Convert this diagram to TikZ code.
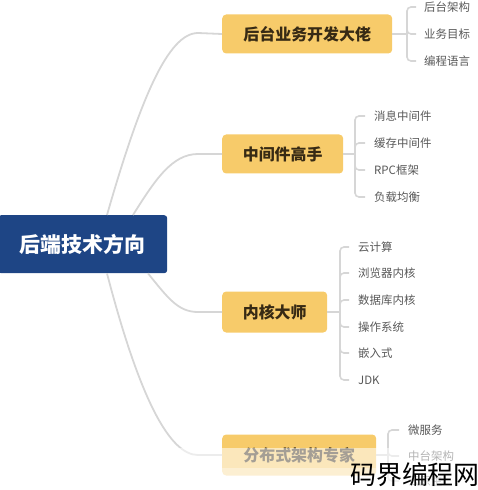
\documentclass[tikz,border=0pt]{standalone}
\usepackage{fontspec}
\setmainfont{Noto Sans CJK SC}
\usetikzlibrary{calc}
\definecolor{rootblue}{RGB}{30,69,133}
\definecolor{branchfill}{RGB}{247,203,106}
\definecolor{branchtext}{RGB}{55,42,20}
\definecolor{linegray}{RGB}{214,214,214}
\definecolor{leafgray}{RGB}{88,88,88}
\tikzset{
  rootbox/.style={fill=rootblue, rounded corners=3bp, text=white, font=\fontsize{21}{24}\selectfont\bfseries, inner sep=0pt, minimum height=58bp, minimum width=169bp},
  branchbox/.style={fill=branchfill, rounded corners=4bp, text=branchtext, font=\fontsize{16}{19}\selectfont\bfseries, inner sep=0pt, minimum height=39bp},
  leaf/.style={anchor=west, inner sep=0pt, text=leafgray, font=\fontsize{11.5}{14}\selectfont},
  conn/.style={draw=linegray, line width=1.8bp},
  brk/.style={draw=linegray, line width=1.6bp, rounded corners=4bp},
}
\begin{document}
\begin{tikzpicture}[x=1bp,y=-1bp]
\useasboundingbox (0,0) rectangle (478,490);
% root
\node[rootbox, anchor=north west] (root) at (-2,215) {后端技术方向};
% branches
\node[branchbox, anchor=west, minimum width=170bp] (b1) at (222,34) {后台业务开发大佬};
\node[branchbox, anchor=west, minimum width=121bp] (b2) at (222,154) {中间件高手};
\node[branchbox, anchor=west, minimum width=105bp, minimum height=41bp] (b3) at (222,312) {内核大师};
\node[branchbox, anchor=west, minimum width=154bp, minimum height=41bp] (b4) at (222,455) {分布式架构专家};
% root connectors
\coordinate (r1) at ($(root.north west)+(109,0)$);
\coordinate (r2) at ($(root.north west)+(135,0)$);
\coordinate (r3) at ($(root.south west)+(150,0)$);
\coordinate (r4) at ($(root.south west)+(109,0)$);
\draw[conn] (r1) .. controls (140,100) and (168,33) .. (198,33) -- (b1.west);
\draw[conn] (r2) .. controls (155,180) and (172,154) .. (198,154) -- (b2.west);
\draw[conn] (r3) .. controls (168,298) and (178,312) .. (198,312) -- (b3.west);
\draw[conn] (r4) .. controls (140,400) and (170,455) .. (198,455) -- (b4.west);
% leaves branch 1
\node[leaf] (l11) at (424,7) {后台架构};
\node[leaf] (l12) at (424,34) {业务目标};
\node[leaf] (l13) at (424,61) {编程语言};
\coordinate (j1) at (407,34);
\draw[conn] (b1.east) -- (j1);
\foreach \n in {l11,l12,l13} \draw[brk] (j1) |- ([xshift=-8bp]\n.west);
% leaves branch 2
\node[leaf] (l21) at (374,116) {消息中间件};
\node[leaf] (l22) at (374,143) {缓存中间件};
\node[leaf] (l23) at (374,170) {RPC框架};
\node[leaf] (l24) at (374,197) {负载均衡};
\coordinate (j2) at (355,154);
\draw[conn] (b2.east) -- (j2);
\foreach \n in {l21,l22,l23,l24} \draw[brk] (j2) |- ([xshift=-9bp]\n.west);
% leaves branch 3
\node[leaf] (l31) at (358,247) {云计算};
\node[leaf] (l32) at (358,273) {浏览器内核};
\node[leaf] (l33) at (358,300) {数据库内核};
\node[leaf] (l34) at (358,327) {操作系统};
\node[leaf] (l35) at (358,353) {嵌入式};
\node[leaf] (l36) at (358,380) {JDK};
\coordinate (j3) at (340,312);
\draw[conn] (b3.east) -- (j3);
\foreach \n in {l31,l32,l33,l34,l35,l36} \draw[brk] (j3) |- ([xshift=-9bp]\n.west);
% leaves branch 4
\node[leaf] (l41) at (408,430) {微服务};
\node[leaf] (l42) at (408,456) {中台架构};
\node[leaf] (l43) at (408,481) {云原生};
\coordinate (j4) at (388,455);
\draw[conn] (b4.east) -- (j4);
\foreach \n in {l41,l42,l43} \draw[brk] (j4) |- ([xshift=-9bp]\n.west);
% fade at the bottom
\fill[white, opacity=0.55] (0,448) rectangle (478,490);
\fill[white, opacity=0.35] (0,468) rectangle (478,490);
% watermark
\node[anchor=south west, inner sep=0pt, font=\fontsize{26}{28}\selectfont, text=black] (wm) at (350,487) {码界编程网};
\end{tikzpicture}
\end{document}
